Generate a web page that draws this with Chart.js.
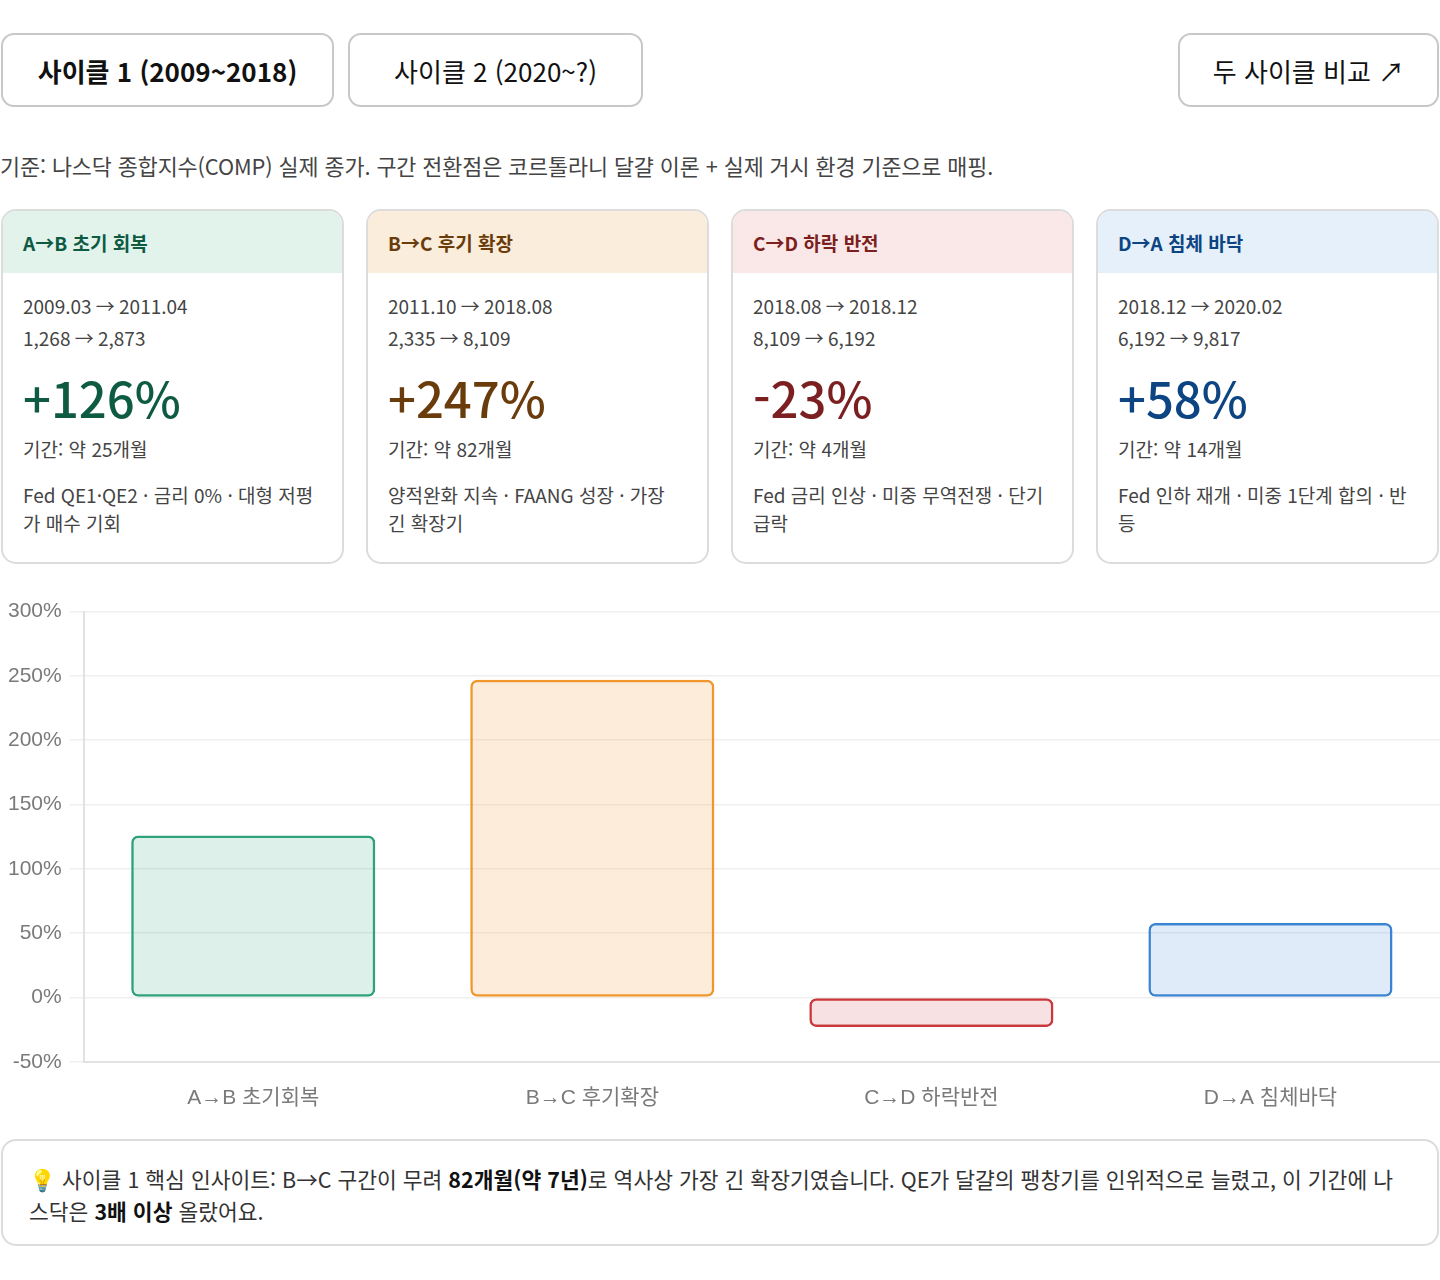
<!DOCTYPE html>
<html lang="ko">
<head>
<meta charset="utf-8">
<script src="https://cdn.jsdelivr.net/npm/chart.js@4.4.1/dist/chart.umd.min.js"></script>
<style>
  * { box-sizing: border-box; }
  body { margin: 0; width: 1440px; background: #fff; font-family: 'Noto Sans CJK KR', 'Noto Sans', sans-serif; color: #222; }
  .tabs { display: flex; gap: 14px; padding-top: 33px; }
  .tab { height: 74px; border: 2px solid #c8c8c8; border-radius: 13px; background: #fff; font: 400 26px 'Noto Sans CJK KR', sans-serif; color: #111; display: flex; align-items: center; justify-content: center; }
  .tab.active { font-weight: 700; }
  .tab.cmp { margin-left: auto; }
  .basis { margin: 0; height: 75px; padding-top: 44px; font-size: 21.8px; color: #444; line-height: 30px; white-space: nowrap; letter-spacing: -0.1px; }
  .cards { display: grid; grid-template-columns: repeat(4, 343px); column-gap: 22px; margin-top: 27px; padding-left: 1px; }
  .card { height: 355px; border: 2px solid #dcdcdc; border-radius: 15px; overflow: hidden; }
  .card .hd { height: 62px; padding-left: 20px; display: flex; align-items: center; font-size: 19px; font-weight: 700; }
  .card .bd { padding: 17px 20px 0 20px; font-size: 19px; color: #444; }
  .card .ln { line-height: 32px; }
  .card .pct { font-size: 49px; font-weight: 500; line-height: 72px; margin-top: 7px; }
  .card .dur { line-height: 32px; margin-top: 0; }
  .card .desc { line-height: 28px; margin-top: 16px; }
  .chartbox { position: relative; height: 536px; margin-top: 27px; }
  .insight { margin: 12px 0 0 1px; width: 1438px; height: 107px; border: 2px solid #dcdcdc; border-radius: 15px; padding: 22px 26px; font-size: 21.5px; line-height: 32px; color: #333; }
  .insight b { color: #111; }
</style>
</head>
<body>
<div class="tabs">
  <div class="tab active" style="width:333px;margin-left:1px">사이클 1 (2009~2018)</div>
  <div class="tab" style="width:295px">사이클 2 (2020~?)</div>
  <div class="tab cmp" style="width:261px;margin-right:1px">두 사이클 비교 ↗</div>
</div>
<p class="basis">기준: 나스닥 종합지수(COMP) 실제 종가. 구간 전환점은 코르톨라니 달걀 이론 + 실제 거시 환경 기준으로 매핑.</p>
<div class="cards" id="cards"></div>
<div class="chartbox"><canvas id="cycleChart"></canvas></div>
<div class="insight">💡 사이클 1 핵심 인사이트: B→C 구간이 무려 <b>82개월(약 7년)</b>로 역사상 가장 긴 확장기였습니다. QE가 달걀의 팽창기를 인위적으로 늘렸고, 이 기간에 나스닥은 <b>3배 이상</b> 올랐어요.</div>

<script>
// 구간 데이터
const phaseTitles = ['A→B 초기 회복', 'B→C 후기 확장', 'C→D 하락 반전', 'D→A 침체 바닥'];
const chartLabels = ['A→B 초기회복', 'B→C 후기확장', 'C→D 하락반전', 'D→A 침체바닥'];
const periods = ['2009.03 → 2011.04', '2011.10 → 2018.08', '2018.08 → 2018.12', '2018.12 → 2020.02'];
const indexMoves = ['1,268 → 2,873', '2,335 → 8,109', '8,109 → 6,192', '6,192 → 9,817'];
const returns = [126, 247, -23, 58];
const months = [25, 82, 4, 14];
const notes = [
    'Fed QE1·QE2 · 금리 0% · 대형 저평가 매수 기회',
    '양적완화 지속 · FAANG 성장 · 가장 긴 확장기',
    'Fed 금리 인상 · 미중 무역전쟁 · 단기 급락',
    'Fed 인하 재개 · 미중 1단계 합의 · 반등'
];
const yTicks = [-50, 0, 50, 100, 150, 200, 250, 300];

// 색상 (헤더 배경, 글자, 막대 테두리, 막대 채움)
const headBg = ['#e2f3ec', '#fbeddb', '#fae8e8', '#e5f0fb'];
const textCol = ['#0e5a43', '#6a3c0c', '#7b1f20', '#0d4482'];
const barBorder = ['#2ea27a', '#f0962c', '#c9393b', '#3b84d2'];
const barFill = ['rgba(46,162,122,0.16)', 'rgba(240,150,44,0.18)', 'rgba(201,57,59,0.15)', 'rgba(59,132,210,0.16)'];

function renderCards() {
    const wrap = document.getElementById('cards');
    phaseTitles.forEach((t, i) => {
        const sign = returns[i] > 0 ? '+' : '';
        const el = document.createElement('div');
        el.className = 'card';
        el.innerHTML =
            `<div class="hd" style="background:${headBg[i]};color:${textCol[i]}">${t}</div>` +
            `<div class="bd">` +
            `<div class="ln">${periods[i]}</div>` +
            `<div class="ln">${indexMoves[i]}</div>` +
            `<div class="pct" style="color:${textCol[i]}">${sign}${returns[i]}%</div>` +
            `<div class="dur">기간: 약 ${months[i]}개월</div>` +
            `<div class="desc">${notes[i]}</div>` +
            `</div>`;
        wrap.appendChild(el);
    });
}

function renderChart() {
    const ctx = document.getElementById('cycleChart');
    new Chart(ctx, {
        type: 'bar',
        data: {
            labels: chartLabels,
            datasets: [{
                data: returns,
                backgroundColor: barFill,
                borderColor: barBorder,
                borderWidth: 2.5,
                borderRadius: 7,
                borderSkipped: false
            }]
        },
        options: {
            responsive: true, maintainAspectRatio: false,
            animation: false,
            layout: { padding: { top: 7, right: 0, bottom: 0, left: 0 } },
            plugins: { legend: { display: false }, tooltip: { enabled: false } },
            scales: {
                y: {
                    min: yTicks[0], max: yTicks[yTicks.length - 1],
                    afterBuildTicks: (axis) => { axis.ticks = yTicks.map(v => ({ value: v })); },
                    ticks: {
                        callback: (v) => v + '%',
                        color: '#7a7a7a', padding: 8,
                        font: { size: 21, family: "'Liberation Sans', Arial, 'Noto Sans CJK KR', sans-serif" }
                    },
                    grid: { color: '#efefef', tickLength: 14, lineWidth: 1.5 },
                    border: { color: '#e2e2e2', width: 2 }
                },
                x: {
                    ticks: {
                        color: '#7a7a7a', padding: 16,
                        font: { size: 21, family: "'Liberation Sans', Arial, 'Noto Sans CJK KR', sans-serif" }
                    },
                    grid: { display: false },
                    border: { color: '#e2e2e2', width: 2 }
                }
            }
        }
    });
}

renderCards();
renderChart();
</script>
</body>
</html>
